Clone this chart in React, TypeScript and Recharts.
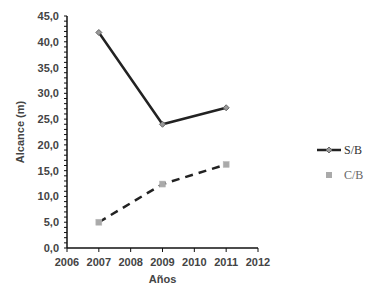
import { ComposedChart, Line, XAxis, YAxis, Legend } from "recharts";

const years = [2007, 2009, 2011];
const sbValues = [41.8, 24.0, 27.2];
const cbValues = [5.0, 12.4, 16.2];
const xTicks = [2006, 2007, 2008, 2009, 2010, 2011, 2012];
const yTicks = Array.from({ length: 46 }, (_, i) => i);

const data = years.map((year, i) => ({ year, sb: sbValues[i], cb: cbValues[i] }));

const font = "'Liberation Sans', Arial, sans-serif";
const textStyle = { fontSize: 11, fill: "#444", fontFamily: font, fontWeight: 600 };

function XTick(props: { x?: number; y?: number; payload?: { value: number } }) {
  const { x = 0, y = 0, payload } = props;
  return (
    <text x={x} y={y + 12} textAnchor="middle" {...textStyle}>
      {payload?.value}
    </text>
  );
}

function YTick(props: { x?: number; y?: number; payload?: { value: number } }) {
  const { x = 0, y = 0, payload } = props;
  const v = payload?.value ?? 0;
  if (v % 5 !== 0) return <g />;
  return (
    <text x={x - 3} y={y + 4} textAnchor="end" {...textStyle}>
      {v.toFixed(1).replace(".", ",")}
    </text>
  );
}

function DiamondDot(props: { cx?: number; cy?: number }) {
  const { cx = 0, cy = 0 } = props;
  return (
    <path
      d={`M${cx - 3},${cy} L${cx},${cy - 3} L${cx + 3},${cy} L${cx},${cy + 3} Z`}
      fill="#999"
      stroke="#666"
      strokeWidth={1}
    />
  );
}

function SquareDot(props: { cx?: number; cy?: number }) {
  const { cx = 0, cy = 0 } = props;
  return <rect x={cx - 3} y={cy - 3} width={6} height={6} fill="#aaa" stroke="#bbb" strokeWidth={0.5} />;
}

function LegendBox() {
  return (
    <div style={{ fontFamily: "'Liberation Serif', serif", fontSize: 12, color: "#333" }}>
      <div style={{ display: "flex", alignItems: "center", height: 16 }}>
        <svg width={26} height={10}>
          <line x1={0} y1={5} x2={24} y2={5} stroke="#222" strokeWidth={2.5} />
          <path d="M12,2 L15,5 L12,8 L9,5 Z" fill="#999" stroke="#666" />
        </svg>
        <span style={{ marginLeft: 1 }}>S/B</span>
      </div>
      <div style={{ display: "flex", alignItems: "center", height: 16, marginTop: 9 }}>
        <svg width={26} height={10}>
          <rect x={9} y={2} width={6} height={6} fill="#aaa" />
        </svg>
        <span style={{ marginLeft: 1, color: "#666" }}>C/B</span>
      </div>
    </div>
  );
}

export default function App() {
  return (
    <div style={{ margin: -8, background: "#fff", width: 378, height: 293 }}>
      <ComposedChart width={378} height={293} data={data} margin={{ top: 16, right: 60, bottom: 5, left: 17 }}>
        <XAxis
          dataKey="year"
          type="number"
          domain={[2006, 2012]}
          ticks={xTicks}
          interval={0}
          tick={<XTick />}
          tickSize={4}
          height={40}
          axisLine={{ stroke: "#111", strokeWidth: 1.5 }}
          tickLine={{ stroke: "#111" }}
          label={{
            value: "Años",
            position: "insideBottom",
            offset: 5,
            style: textStyle,
          }}
        />
        <YAxis
          type="number"
          domain={[0, 45]}
          ticks={yTicks}
          interval={0}
          tick={<YTick />}
          tickSize={3}
          width={50}
          axisLine={{ stroke: "#111", strokeWidth: 1.5 }}
          tickLine={{ stroke: "#111" }}
          label={{
            value: "Alcance (m)",
            angle: -90,
            position: "insideLeft",
            offset: 3,
            style: { ...textStyle, textAnchor: "middle" },
          }}
        />
        <Legend
          layout="vertical"
          verticalAlign="top"
          align="right"
          content={<LegendBox />}
          wrapperStyle={{ top: 142, left: 317, width: 60 }}
        />
        <Line
          dataKey="sb"
          name="S/B"
          stroke="#222"
          strokeWidth={2.5}
          dot={<DiamondDot />}
          isAnimationActive={false}
        />
        <Line
          dataKey="cb"
          name="C/B"
          stroke="#222"
          strokeWidth={2.5}
          strokeDasharray="8 6"
          dot={<SquareDot />}
          isAnimationActive={false}
        />
      </ComposedChart>
    </div>
  );
}
